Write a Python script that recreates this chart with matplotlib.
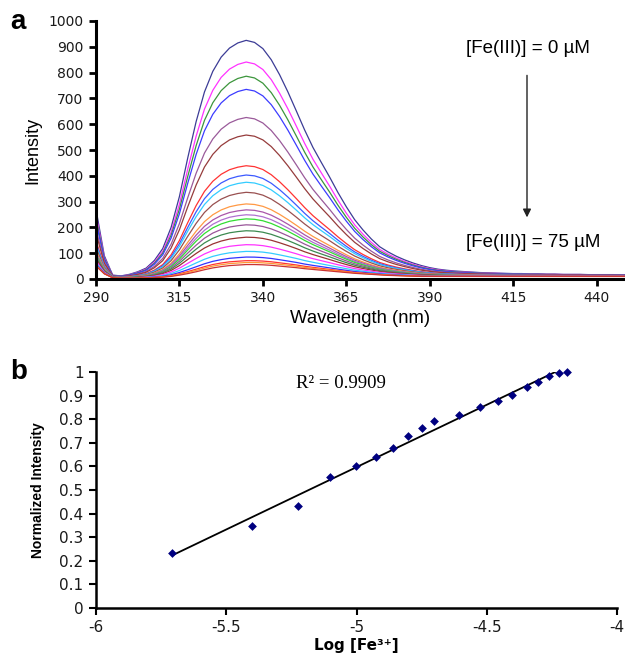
import numpy as np
import matplotlib
matplotlib.use("Agg")
import matplotlib.pyplot as plt

plt.rcParams['axes.unicode_minus'] = False

# ---------------- Panel a data ----------------
wavelength = [290, 292.5, 295, 297.5, 300, 302.5, 305, 307.5, 310, 312.5,
              315, 317.5, 320, 322.5, 325, 327.5, 330, 332.5, 335, 337.5,
              340, 342.5, 345, 347.5, 350, 352.5, 355, 357.5, 360, 362.5,
              365, 367.5, 370, 372.5, 375, 377.5, 380, 382.5, 385, 387.5,
              390, 392.5, 395, 397.5, 400, 402.5, 405, 407.5, 410, 412.5,
              415, 417.5, 420, 422.5, 425, 427.5, 430, 432.5, 435, 437.5,
              440, 442.5, 445, 447.5, 450]
# top spectrum ([Fe(III)] = 0 uM)
top_spectrum = [270, 90, 15, 12, 18, 28, 42, 72, 118, 200,
                320, 470, 610, 725, 805, 860, 895, 915, 925, 917,
                893, 850, 792, 725, 652, 578, 510, 452, 395, 335,
                280, 230, 190, 155, 125, 105, 88, 74, 62, 52,
                44, 38, 34, 31, 29, 27, 25, 24, 23, 22,
                21, 21, 20, 20, 19, 19, 18, 18, 18, 17,
                17, 17, 17, 16, 16]
# bottom spectrum ([Fe(III)] = 75 uM)
bottom_spectrum = [50, 20, 5, 3, 3, 3, 4, 5, 7, 10,
                   15, 21, 28, 36, 43, 48, 52, 54, 56, 56,
                   55, 53, 50, 47, 44, 40, 37, 34, 31, 28,
                   25, 22, 20, 18, 16, 14, 13, 12, 11, 10,
                   10, 10, 10, 10, 10, 10, 10, 10, 10, 10,
                   10, 10, 10, 10, 10, 10, 10, 10, 10, 10,
                   10, 10, 10, 10, 10]
# peak intensity of each spectrum (top to bottom)
peak_values = [925, 841, 786, 735, 626, 558, 439, 403, 375, 336, 291, 268,
               249, 233, 210, 187, 162, 133, 107, 85, 71, 64, 56]
curve_colors = ['#3c3c96', '#ff33ff', '#3c963c', '#3c3cff', '#9a5a9a',
                '#963c3c', '#ff3333', '#3c5aff', '#33ccff', '#995050',
                '#ff9944', '#aa55aa', '#b070d0', '#33dd33', '#995599',
                '#3c8a50', '#993333', '#ff33ff', '#33ccff', '#3333ff',
                '#ff3333', '#ff9933', '#cc3333']

# ---------------- Panel b data ----------------
log_fe = [-5.707, -5.402, -5.226, -5.102, -5.003, -4.925, -4.859, -4.802,
          -4.749, -4.701, -4.605, -4.526, -4.458, -4.402, -4.347, -4.302,
          -4.262, -4.224, -4.192]
norm_int = [0.232, 0.349, 0.431, 0.556, 0.602, 0.638, 0.677, 0.729,
            0.764, 0.794, 0.816, 0.852, 0.876, 0.903, 0.938, 0.959,
            0.983, 0.994, 0.999]

W, H = 625, 654
fig = plt.figure(figsize=(W / 100, H / 100), dpi=100)
fig.patch.set_facecolor('white')


def px_axes(l, t, r, b):
    return fig.add_axes([l / W, 1 - b / H, (r - l) / W, (b - t) / H])


tick_color = '#1a1a1a'

# ---------------- Panel a ----------------
axa = px_axes(96, 21, 625, 279)
wl = np.array(wavelength)
top = np.array(top_spectrum, dtype=float)
bot = np.array(bottom_spectrum, dtype=float)
pk_top, pk_bot = max(top_spectrum[5:]), max(bottom_spectrum[5:])
for pk, col in zip(peak_values, curve_colors):
    frac = (pk - pk_bot) / (pk_top - pk_bot)
    axa.plot(wl, bot + frac * (top - bot), color=col, lw=0.9)

axa.set_xlim(290, 448.5)
axa.set_ylim(0, 1000)
axa.set_xticks(range(290, 441, 25))
axa.set_yticks(range(0, 1001, 100))
for s in ['top', 'right']:
    axa.spines[s].set_visible(False)
for s in ['left', 'bottom']:
    axa.spines[s].set_linewidth(2.2)
axa.tick_params(direction='out', length=5, width=2, labelsize=10,
                labelcolor=tick_color, pad=4)
axa.set_ylabel('Intensity', family='Liberation Sans', fontsize=13, labelpad=5)
axa.set_xlabel('Wavelength (nm)', family='Liberation Sans', fontsize=13.3,
               labelpad=3)
fig.text(10 / W, 1 - 22 / H, 'a', fontsize=20, fontweight='bold',
         family='Liberation Sans', va='center', ha='left')

axa.text((466 - 96) / 529, 0.895, '[Fe(III)] = 0 µM', transform=axa.transAxes,
         family='Liberation Sans', fontsize=13.5, ha='left', va='center')
axa.text((466 - 96) / 529, 0.140, '[Fe(III)] = 75 µM', transform=axa.transAxes,
         family='Liberation Sans', fontsize=13.5, ha='left', va='center')
axa.annotate('', xy=((527 - 96) / 529, 0.228), xytext=((527 - 96) / 529, 0.80),
             xycoords='axes fraction',
             arrowprops=dict(arrowstyle='-|>', color='#222222', lw=1.0,
                             mutation_scale=12))

# ---------------- Panel b ----------------
axb = px_axes(96, 372, 617, 608)
axb.scatter(log_fe, norm_int, marker='D', s=20, color='#000080', zorder=3,
            linewidths=0, clip_on=False)
coef = np.polyfit(log_fe, norm_int, 1)
xf = np.array([min(log_fe), max(log_fe)])
axb.plot(xf, np.polyval(coef, xf), color='black', lw=1.3, zorder=2)
axb.set_xlim(-6, -4)
axb.set_ylim(0, 1)
axb.set_xticks([-6, -5.5, -5, -4.5, -4])
axb.set_xticklabels(['-6', '-5.5', '-5', '-4.5', '-4'])
axb.set_yticks(np.round(np.arange(0, 1.01, 0.1), 1))
axb.set_yticklabels(['0', '0.1', '0.2', '0.3', '0.4', '0.5', '0.6', '0.7',
                     '0.8', '0.9', '1'])
for s in ['top', 'right']:
    axb.spines[s].set_visible(False)
for s in ['left', 'bottom']:
    axb.spines[s].set_linewidth(1.8)
axb.tick_params(direction='out', length=5, width=1.5, labelsize=11,
                labelcolor=tick_color, pad=4)
axb.set_ylabel('Normalized Intensity', family='Liberation Sans',
               fontweight='bold', fontsize=10, labelpad=10)
axb.set_xlabel('Log [Fe³⁺]', family='DejaVu Sans', fontweight='bold',
               fontsize=11, labelpad=2)
fig.text(296 / W, 1 - 383 / H, 'R² = 0.9909', fontsize=13.5,
         family='Liberation Serif', va='center', ha='left')
fig.text(10 / W, 1 - 372 / H, 'b', fontsize=20, fontweight='bold',
         family='Liberation Sans', va='center', ha='left')

fig.savefig('out.png', dpi=100)
